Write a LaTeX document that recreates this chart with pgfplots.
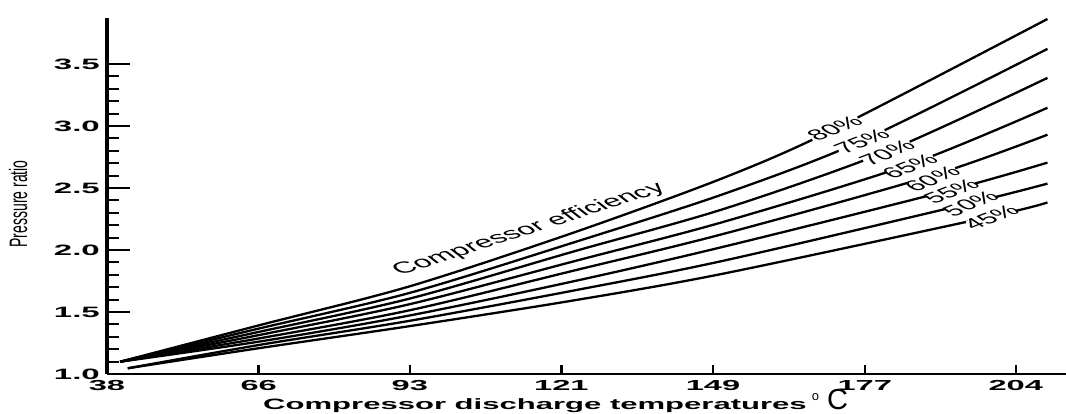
\documentclass[border=0pt]{standalone}
\usepackage{fontspec}
\usepackage{graphicx}
\usepackage{pgfplots}
\pgfplotsset{compat=1.18}
\setmainfont{Liberation Sans}
\newfontfamily\ytickfont[FakeStretch=2.2]{Liberation Sans}
\newfontfamily\xtickfont[FakeStretch=2.25]{Liberation Sans}
\newfontfamily\xlabfont[FakeStretch=2.07]{Liberation Sans}
\newcommand{\plab}[1]{\scalebox{2}[1]{\rotatebox{38}{\fontsize{15bp}{17bp}\selectfont #1}}}
\tikzset{
  gap/.style={fill=white, draw=none, rotate=21.3, minimum width=50bp, minimum height=12bp, inner sep=0pt},
  lab/.style={inner sep=0pt, anchor=center},
  crv/.style={black, line width=2.3bp, smooth, tension=0.5}
}
\begin{document}
\begin{tikzpicture}
\begin{axis}[
  scale only axis,
  width=959bp, height=356bp,
  xmin=37.8, xmax=213.6,
  ymin=1.0, ymax=3.87,
  clip=false,
  axis x line*=bottom, axis y line*=left,
  x axis line style={-, line width=2bp},
  y axis line style={-, line width=3.5bp},
  tick align=inside,
  major tick length=23bp, minor tick length=12bp,
  xtick={37.8,65.6,93.3,121.1,148.9,176.7,204.4},
  xticklabels={38,66,93,121,149,177,204},
  xtick style={draw=none},
  ytick={1.0,1.5,2.0,2.5,3.0,3.5},
  yticklabels={1.0,1.5,2.0,2.5,3.0,3.5},
  minor y tick num=4,
  ytick style={black, line width=2bp},
  xticklabel style={font=\xtickfont\bfseries\fontsize{14.5bp}{16bp}\selectfont, anchor=north, inner sep=0pt, yshift=-6bp},
  yticklabel style={font=\ytickfont\bfseries\fontsize{15bp}{17bp}\selectfont, anchor=east, inner sep=0pt, xshift=-7bp},
]
% 80%
\addplot[crv] coordinates {(40.2,1.099) (65.8,1.394) (93.3,1.707) (123.6,2.144) (151.1,2.586) (171.2,2.975) (210.2,3.862)};
% 75%
\addplot[crv] coordinates {(40.2,1.099) (65.8,1.368) (93.3,1.654) (123.6,2.064) (151.1,2.455) (176.2,2.880) (210.2,3.621)};
% 70%
\addplot[crv] coordinates {(40.2,1.099) (65.8,1.341) (93.3,1.608) (123.6,1.991) (151.1,2.334) (180.8,2.795) (210.2,3.387)};
% 65%
\addplot[crv] coordinates {(40.2,1.099) (65.8,1.315) (93.3,1.563) (123.6,1.911) (151.1,2.230) (185.0,2.690) (210.2,3.146)};
% 60%
\addplot[crv] coordinates {(40.2,1.099) (65.8,1.288) (93.3,1.514) (123.6,1.836) (151.1,2.133) (189.1,2.600) (210.2,2.929)};
% 55%
\addplot[crv] coordinates {(40.2,1.099) (65.8,1.262) (93.3,1.472) (123.6,1.750) (151.1,2.029) (192.6,2.485) (210.2,2.704)};
% 50%
\addplot[crv] coordinates {(41.6,1.046) (65.8,1.235) (93.3,1.429) (123.6,1.675) (151.1,1.916) (196.1,2.378) (210.2,2.535)};
% 45%
\addplot[crv] coordinates {(41.6,1.046) (65.8,1.209) (93.3,1.386) (123.6,1.595) (151.1,1.812) (199.9,2.270) (210.2,2.383)};

% x tick marks (short, pointing up)
\draw[line width=2.4bp] (axis cs:65.6,1) -- ([yshift=9bp]axis cs:65.6,1);
\draw[line width=2.4bp] (axis cs:93.3,1) -- ([yshift=9bp]axis cs:93.3,1);
\draw[line width=2.4bp] (axis cs:121.1,1) -- ([yshift=9bp]axis cs:121.1,1);
\draw[line width=2.4bp] (axis cs:148.9,1) -- ([yshift=9bp]axis cs:148.9,1);
\draw[line width=2.4bp] (axis cs:176.7,1) -- ([yshift=9bp]axis cs:176.7,1);
\draw[line width=2.4bp] (axis cs:204.4,1) -- ([yshift=9bp]axis cs:204.4,1);

% gaps in the curves under the labels
\node[gap] at (axis cs:171.2,2.983) {};
\node[gap] at (axis cs:176.2,2.875) {};
\node[gap] at (axis cs:180.8,2.782) {};
\node[gap] at (axis cs:185.0,2.675) {};
\node[gap] at (axis cs:189.1,2.573) {};
\node[gap] at (axis cs:192.6,2.473) {};
\node[gap] at (axis cs:196.1,2.372) {};
\node[gap] at (axis cs:199.9,2.260) {};
% curve labels
\node[lab] at (axis cs:171.2,2.983) {\plab{80\%}};
\node[lab] at (axis cs:176.2,2.875) {\plab{75\%}};
\node[lab] at (axis cs:180.8,2.782) {\plab{70\%}};
\node[lab] at (axis cs:185.0,2.675) {\plab{65\%}};
\node[lab] at (axis cs:189.1,2.573) {\plab{60\%}};
\node[lab] at (axis cs:192.6,2.473) {\plab{55\%}};
\node[lab] at (axis cs:196.1,2.372) {\plab{50\%}};
\node[lab] at (axis cs:199.9,2.260) {\plab{45\%}};

\node[lab] at (axis cs:115.2,2.165)
  {\scalebox{2}[1]{\rotatebox{32.5}{\fontsize{16bp}{18bp}\selectfont Compressor efficiency}}};

% axis titles
\node[lab] at ([xshift=-89bp]rel axis cs:0,0.478)
  {\scalebox{1.8}[1]{\rotatebox{90}{\fontsize{14bp}{16bp}\selectfont Pressure ratio}}};
\node[anchor=base west, inner sep=0pt] at ([yshift=-35bp]rel axis cs:0.1627,0)
  {{\xlabfont\bfseries\fontsize{15bp}{17bp}\selectfont Compressor discharge temperatures}\hspace{5bp}\raisebox{9bp}{\fontsize{13bp}{13bp}\selectfont o}\hspace{8bp}{\fontsize{29bp}{29bp}\selectfont C}};

\coordinate (O) at (rel axis cs:0,0);
\coordinate (T) at (rel axis cs:1,1);
\end{axis}
\pgfresetboundingbox
\path ([xshift=-107bp,yshift=-40bp]O) rectangle ([yshift=18bp]T);
\end{tikzpicture}
\end{document}
